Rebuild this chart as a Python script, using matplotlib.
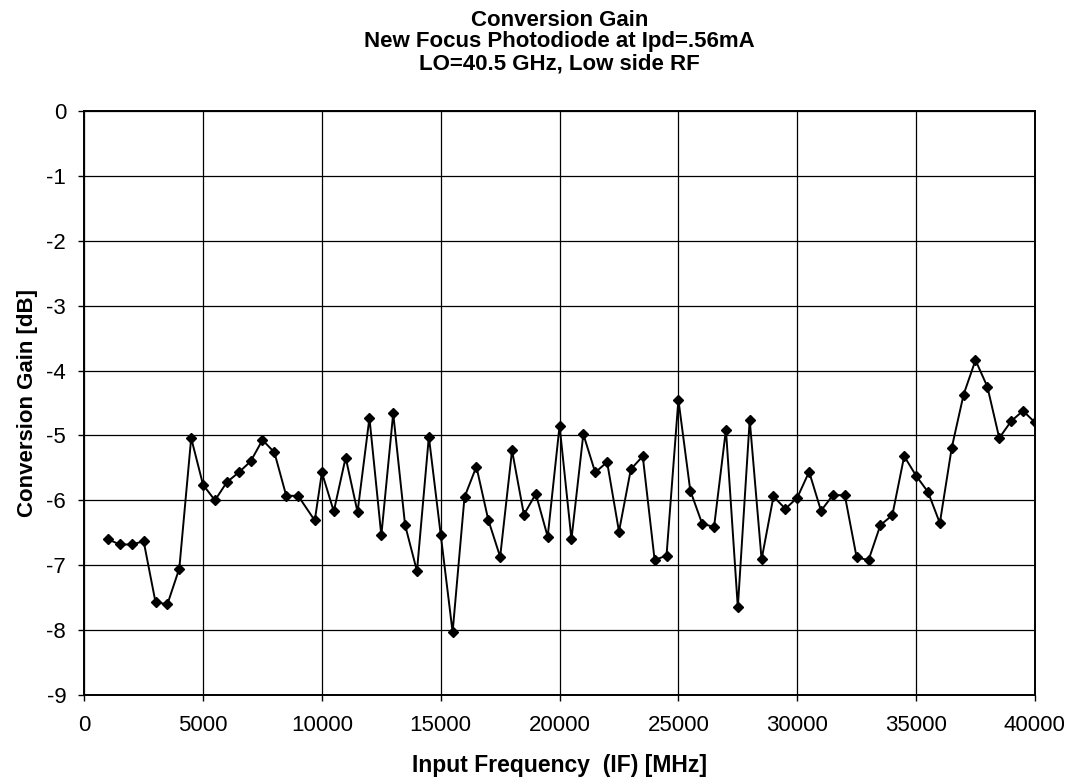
import matplotlib.pyplot as plt

plt.rcParams['font.family'] = ['Liberation Sans', 'DejaVu Sans']
plt.rcParams['axes.unicode_minus'] = False

# IF frequency sweep (MHz) and measured conversion gain (dB)
freq_mhz = [1000, 1500, 2000, 2500, 3000, 3500, 4000, 4500, 5000, 5500,
            6000, 6500, 7000, 7500, 8000, 8500, 9000, 9700, 10000, 10500,
            11000, 11500, 12000, 12500, 13000, 13500, 14000, 14500, 15000, 15500,
            16000, 16500, 17000, 17500, 18000, 18500, 19000, 19500, 20000, 20500,
            21000, 21500, 22000, 22500, 23000, 23500, 24000, 24500, 25000, 25500,
            26000, 26500, 27000, 27500, 28000, 28500, 29000, 29500, 30000, 30500,
            31000, 31500, 32000, 32500, 33000, 33500, 34000, 34500, 35000, 35500,
            36000, 36500, 37000, 37500, 38000, 38500, 39000, 39500, 40000]
gain_db = [-6.60, -6.68, -6.68, -6.63, -7.57, -7.60, -7.05, -5.04, -5.76, -6.00,
           -5.72, -5.57, -5.40, -5.07, -5.26, -5.93, -5.93, -6.31, -5.57, -6.17,
           -5.34, -6.18, -4.73, -6.54, -4.66, -6.38, -7.09, -5.02, -6.53, -8.03,
           -5.95, -5.48, -6.30, -6.87, -5.23, -6.22, -5.90, -6.56, -4.85, -6.60,
           -4.98, -5.57, -5.41, -6.48, -5.52, -5.32, -6.92, -6.85, -4.45, -5.85,
           -6.36, -6.41, -4.91, -7.65, -4.76, -6.91, -5.94, -6.13, -5.96, -5.56,
           -6.16, -5.92, -5.92, -6.88, -6.92, -6.38, -6.23, -5.32, -5.62, -5.87,
           -6.35, -5.19, -4.37, -3.84, -4.25, -5.04, -4.78, -4.62, -4.80]

x_ticks = list(range(0, 40001, 5000))
y_ticks = list(range(-9, 1))

fig = plt.figure(figsize=(10.73, 7.81), dpi=100)
ax = fig.add_axes([0.0785, 0.110, 0.886, 0.748])

ax.plot(freq_mhz, gain_db, color='black', linewidth=1.4,
        marker='D', markersize=5.5, markerfacecolor='black', markeredgecolor='black')

ax.set_xlim(0, 40000)
ax.set_ylim(-9, 0)
ax.set_xticks(x_ticks)
ax.set_yticks(y_ticks)
ax.tick_params(axis='both', labelsize=16, direction='out', length=4, width=1, color='black')
ax.tick_params(axis='x', pad=10)
ax.tick_params(axis='y', pad=9)
ax.grid(True, color='black', linewidth=0.9)
ax.set_axisbelow(True)
for sp in ax.spines.values():
    sp.set_linewidth(1.4)
    sp.set_color('black')

ax.set_xlabel('Input Frequency  (IF) [MHz]', fontsize=16.5, fontweight='bold', labelpad=13)
ax.set_ylabel('Conversion Gain [dB]', fontsize=16, fontweight='bold', labelpad=6)
ax.set_title('Conversion Gain\nNew Focus Photodiode at Ipd=.56mA\nLO=40.5 GHz, Low side RF',
             fontsize=16, fontweight='bold', linespacing=1.05, pad=30)

fig.savefig('out.png', dpi=100)
